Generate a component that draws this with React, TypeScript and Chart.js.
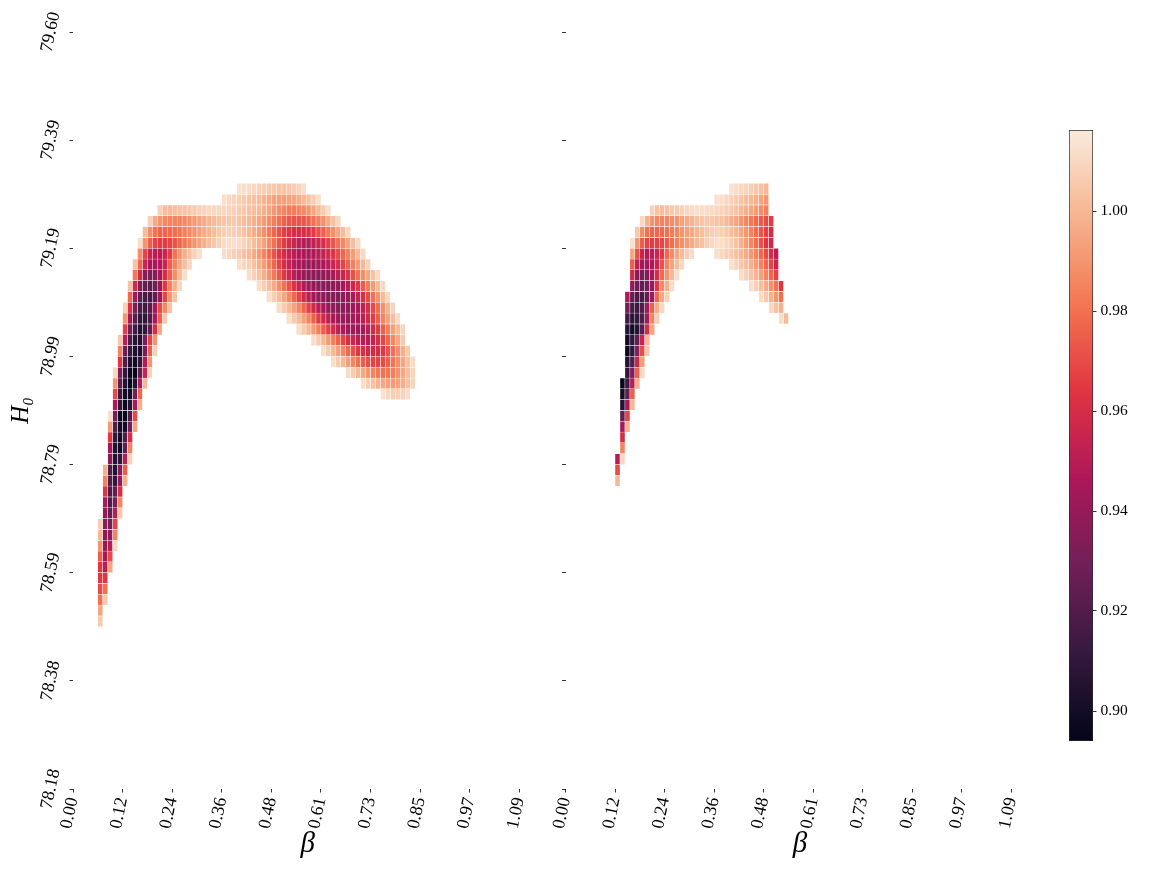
import React, { useEffect, useRef } from "react";
import { Chart, registerables } from "chart.js";

Chart.register(...registerables);

const xTickLabels = ["0.00", "0.12", "0.24", "0.36", "0.48", "0.61", "0.73", "0.85", "0.97", "1.09"];
const xTickCols = [0, 10, 20, 30, 40, 50, 60, 70, 80, 90];
const yTickLabels = ["78.18", "78.38", "78.59", "78.79", "78.99", "79.19", "79.39", "79.60"];
const yTickRows = [0, 10, 20, 30, 40, 50, 60, 70];
const colorbarTicks = [0.9, 0.92, 0.94, 0.96, 0.98, 1.0];
const colorMin = 0.894;
const colorMax = 1.0162;
const rocketStops = ["#03051a", "#35193e", "#701f57", "#ad1759", "#e13342", "#f37651", "#f6b48f", "#faebdd"];

type Run = [number, number, number[]];

// [row, first column, values]
const leftRuns: Run[] = [
  [55, 33, [1.013, 1.012, 1.011, 1.01, 1.008, 1.007, 1.006, 1.005, 1.004, 1.004, 1.005, 1.007, 1.009, 1.012]],
  [54, 30, [1.012, 1.01, 1.009, 1.007, 1.006, 1.004, 1.003, 1.001, 0.999, 0.996, 0.994, 0.993, 0.993, 0.994, 0.995, 0.997, 1.0, 1.003, 1.007, 1.012]],
  [53, 17, [1.008, 1.002, 1.001, 1.002, 1.003, 1.004, 1.005, 1.006, 1.008, 1.009, 1.01, 1.01, 1.01, 1.01, 1.009, 1.008, 1.006, 1.005, 1.003, 1.002, 1.0, 0.998, 0.995, 0.991, 0.988, 0.985, 0.983, 0.983, 0.985, 0.987, 0.99, 0.995, 1.0, 1.006, 1.012]],
  [52, 15, [1.008, 0.996, 0.99, 0.986, 0.985, 0.985, 0.985, 0.987, 0.989, 0.991, 0.994, 0.996, 0.999, 1.001, 1.003, 1.004, 1.005, 1.005, 1.004, 1.002, 1.0, 0.998, 0.995, 0.992, 0.988, 0.984, 0.98, 0.976, 0.973, 0.972, 0.972, 0.973, 0.976, 0.98, 0.984, 0.989, 0.996, 1.003, 1.01]],
  [51, 14, [1.002, 0.988, 0.98, 0.977, 0.977, 0.978, 0.979, 0.981, 0.984, 0.987, 0.99, 0.993, 0.996, 0.999, 1.002, 1.005, 1.007, 1.008, 1.007, 1.006, 1.003, 1.0, 0.997, 0.993, 0.988, 0.983, 0.977, 0.972, 0.967, 0.963, 0.96, 0.959, 0.96, 0.962, 0.966, 0.971, 0.976, 0.982, 0.988, 0.995, 1.002, 1.01]],
  [50, 13, [1.012, 0.99, 0.975, 0.968, 0.966, 0.966, 0.968, 0.972, 0.977, 0.981, 0.986, 0.99, 0.994, 0.998, 1.002, 1.005, 1.008, 1.011, 1.012, 1.012, 1.011, 1.009, 1.006, 1.002, 0.998, 0.993, 0.987, 0.98, 0.973, 0.966, 0.96, 0.955, 0.951, 0.949, 0.949, 0.952, 0.956, 0.961, 0.967, 0.973, 0.98, 0.987, 0.994, 1.002, 1.011]],
  [49, 13, [0.988, 0.968, 0.955, 0.95, 0.95, 0.955, 0.966, 0.98, 0.99, 0.997, 1.003, 1.008, 1.012]],
  [49, 30, [1.012, 1.01, 1.008, 1.006, 1.003, 1.0, 0.996, 0.991, 0.985, 0.979, 0.972, 0.965, 0.959, 0.954, 0.95, 0.947, 0.946, 0.946, 0.947, 0.95, 0.953, 0.958, 0.963, 0.97, 0.977, 0.984, 0.992, 1.0, 1.01]],
  [48, 12, [1.004, 0.977, 0.955, 0.945, 0.945, 0.948, 0.955, 0.975, 0.985, 0.995, 1.002, 1.01]],
  [48, 33, [1.012, 1.01, 1.007, 1.003, 0.998, 0.992, 0.985, 0.977, 0.968, 0.96, 0.954, 0.949, 0.945, 0.942, 0.94, 0.94, 0.942, 0.945, 0.949, 0.955, 0.961, 0.968, 0.976, 0.984, 0.992, 1.0, 1.009]],
  [47, 12, [0.982, 0.958, 0.935, 0.932, 0.935, 0.945, 0.96, 0.975, 0.988, 1.0, 1.012]],
  [47, 35, [1.012, 1.008, 1.003, 0.997, 0.99, 0.982, 0.974, 0.965, 0.957, 0.95, 0.945, 0.941, 0.938, 0.937, 0.937, 0.938, 0.941, 0.945, 0.95, 0.956, 0.963, 0.971, 0.98, 0.988, 0.995, 1.003, 1.011]],
  [46, 11, [1.003, 0.958, 0.935, 0.925, 0.923, 0.928, 0.94, 0.965, 0.985, 0.998, 1.01]],
  [46, 37, [1.012, 1.007, 1.002, 0.996, 0.988, 0.98, 0.972, 0.963, 0.955, 0.948, 0.943, 0.939, 0.937, 0.936, 0.936, 0.937, 0.94, 0.944, 0.95, 0.957, 0.965, 0.974, 0.983, 0.992, 1.0, 1.01]],
  [45, 11, [0.978, 0.945, 0.925, 0.918, 0.918, 0.925, 0.943, 0.968, 0.99, 1.003]],
  [45, 39, [1.012, 1.007, 1.001, 0.995, 0.986, 0.977, 0.968, 0.959, 0.951, 0.945, 0.94, 0.937, 0.935, 0.935, 0.936, 0.938, 0.941, 0.946, 0.953, 0.961, 0.97, 0.98, 0.99, 1.0, 1.01]],
  [44, 10, [1.008, 0.962, 0.932, 0.918, 0.915, 0.922, 0.945, 0.97, 0.986, 1.003]],
  [44, 41, [1.012, 1.006, 1.0, 0.994, 0.986, 0.977, 0.967, 0.958, 0.95, 0.945, 0.94, 0.937, 0.936, 0.936, 0.938, 0.941, 0.946, 0.952, 0.96, 0.969, 0.979, 0.989, 0.999, 1.009]],
  [43, 10, [0.99, 0.945, 0.922, 0.91, 0.91, 0.92, 0.945, 0.975, 1.005]],
  [43, 43, [1.012, 1.006, 1.0, 0.993, 0.985, 0.976, 0.966, 0.958, 0.952, 0.947, 0.943, 0.941, 0.941, 0.943, 0.946, 0.951, 0.958, 0.966, 0.975, 0.985, 0.994, 1.002, 1.011]],
  [42, 10, [0.967, 0.93, 0.915, 0.905, 0.91, 0.925, 0.96, 0.995]],
  [42, 45, [1.012, 1.006, 1.0, 0.992, 0.984, 0.975, 0.967, 0.959, 0.952, 0.947, 0.943, 0.942, 0.943, 0.946, 0.951, 0.958, 0.966, 0.975, 0.984, 0.993, 1.001, 1.009]],
  [41, 9, [1.005, 0.95, 0.92, 0.908, 0.905, 0.93, 0.968, 0.99]],
  [41, 48, [1.012, 1.006, 1.0, 0.992, 0.984, 0.976, 0.968, 0.961, 0.955, 0.951, 0.949, 0.95, 0.954, 0.96, 0.968, 0.977, 0.986, 0.995, 1.005]],
  [40, 9, [0.985, 0.928, 0.912, 0.904, 0.903, 0.93, 0.975, 1.008]],
  [40, 50, [1.012, 1.006, 1.0, 0.993, 0.986, 0.978, 0.971, 0.965, 0.961, 0.958, 0.958, 0.96, 0.965, 0.972, 0.98, 0.988, 0.997, 1.006]],
  [39, 9, [0.965, 0.92, 0.903, 0.9, 0.91, 0.948, 0.99]],
  [39, 52, [1.012, 1.006, 1.0, 0.993, 0.986, 0.98, 0.975, 0.971, 0.968, 0.968, 0.97, 0.975, 0.981, 0.988, 0.995, 1.003, 1.011]],
  [38, 8, [1.01, 0.935, 0.91, 0.896, 0.895, 0.925, 0.955, 1.008]],
  [38, 55, [1.011, 1.006, 1.0, 0.995, 0.99, 0.985, 0.982, 0.98, 0.981, 0.984, 0.989, 0.995, 1.002, 1.009]],
  [37, 8, [0.99, 0.925, 0.905, 0.896, 0.905, 0.95, 1.0]],
  [37, 58, [1.012, 1.007, 1.003, 0.999, 0.995, 0.993, 0.992, 0.994, 0.997, 1.003, 1.009]],
  [36, 8, [0.97, 0.915, 0.9, 0.9, 0.93, 0.977]],
  [36, 62, [1.013, 1.01, 1.007, 1.007, 1.009, 1.012]],
  [35, 8, [0.947, 0.91, 0.897, 0.906, 0.946, 0.998]],
  [34, 7, [1.012, 0.93, 0.897, 0.895, 0.92, 0.97]],
  [33, 7, [0.992, 0.92, 0.9, 0.9, 0.93, 0.995]],
  [32, 7, [0.965, 0.91, 0.9, 0.92, 0.96]],
  [31, 7, [0.945, 0.905, 0.9, 0.925, 0.985]],
  [30, 7, [0.935, 0.905, 0.91, 0.95, 1.008]],
  [29, 6, [0.998, 0.92, 0.905, 0.935, 0.975]],
  [28, 6, [0.985, 0.92, 0.91, 0.94, 0.998]],
  [27, 6, [0.965, 0.92, 0.925, 0.96]],
  [26, 6, [0.947, 0.92, 0.93, 0.985]],
  [25, 6, [0.94, 0.925, 0.95, 1.005]],
  [24, 5, [1.007, 0.937, 0.93, 0.968]],
  [23, 5, [1.0, 0.937, 0.94, 0.985]],
  [22, 5, [0.99, 0.94, 0.95, 1.01]],
  [21, 5, [0.975, 0.945, 0.97]],
  [20, 5, [0.965, 0.95, 0.995]],
  [19, 5, [0.965, 0.965]],
  [18, 5, [0.97, 0.98]],
  [17, 5, [0.98, 1.005]],
  [16, 5, [0.995]],
  [15, 5, [1.006]],
];

const rightRuns: Run[] = [
  [55, 33, [1.013, 1.011, 1.01, 1.009, 1.007, 1.005, 1.003, 1.0]],
  [54, 30, [1.013, 1.012, 1.01, 1.008, 1.006, 1.004, 1.002, 1.0, 0.998, 0.995, 0.991]],
  [53, 17, [1.008, 1.003, 1.002, 1.003, 1.005, 1.006, 1.008, 1.01, 1.011, 1.012, 1.012, 1.011, 1.011, 1.01, 1.009, 1.007, 1.005, 1.003, 1.0, 0.998, 0.995, 0.992, 0.988, 0.984]],
  [52, 15, [1.01, 0.998, 0.99, 0.986, 0.985, 0.986, 0.988, 0.99, 0.993, 0.996, 0.999, 1.002, 1.004, 1.005, 1.005, 1.004, 1.003, 1.0, 0.997, 0.994, 0.99, 0.986, 0.982, 0.978, 0.974, 0.97, 0.966]],
  [51, 14, [1.005, 0.988, 0.98, 0.977, 0.977, 0.978, 0.98, 0.983, 0.986, 0.99, 0.993, 0.996, 0.999, 1.002, 1.005, 1.007, 1.008, 1.007, 1.005, 1.002, 0.999, 0.995, 0.99, 0.985, 0.979, 0.973, 0.967, 0.96]],
  [50, 13, [1.013, 0.99, 0.975, 0.968, 0.966, 0.967, 0.969, 0.974, 0.979, 0.984, 0.988, 0.992, 0.996, 1.0, 1.003, 1.007, 1.01, 1.012, 1.012, 1.01, 1.007, 1.003, 0.998, 0.992, 0.986, 0.979, 0.972, 0.964, 0.957]],
  [49, 13, [0.995, 0.972, 0.955, 0.948, 0.95, 0.955, 0.965, 0.978, 0.987, 0.995, 1.001, 1.007, 1.011]],
  [49, 30, [1.012, 1.01, 1.008, 1.006, 1.003, 1.0, 0.996, 0.991, 0.985, 0.978, 0.97, 0.96, 0.95]],
  [48, 13, [0.975, 0.952, 0.943, 0.943, 0.947, 0.955, 0.972, 0.985, 0.994, 1.002, 1.01]],
  [48, 33, [1.012, 1.009, 1.005, 1.002, 0.998, 0.992, 0.985, 0.977, 0.968, 0.955]],
  [47, 13, [0.958, 0.935, 0.932, 0.935, 0.945, 0.96, 0.978, 0.99, 1.0, 1.012]],
  [47, 35, [1.012, 1.008, 1.004, 0.999, 0.993, 0.985, 0.977, 0.968]],
  [46, 13, [0.94, 0.928, 0.925, 0.928, 0.94, 0.965, 0.987, 0.998, 1.011]],
  [46, 37, [1.012, 1.007, 1.002, 0.996, 0.989, 0.98, 0.965]],
  [45, 12, [0.948, 0.925, 0.918, 0.918, 0.925, 0.943, 0.978, 0.995, 1.008]],
  [45, 39, [1.011, 1.005, 0.998, 0.99, 0.98]],
  [44, 12, [0.93, 0.917, 0.913, 0.92, 0.945, 0.975, 0.997, 1.01]],
  [44, 41, [1.01, 1.003, 0.998]],
  [43, 12, [0.915, 0.908, 0.91, 0.92, 0.945, 0.985, 1.007]],
  [43, 43, [1.012, 1.001]],
  [42, 12, [0.907, 0.9, 0.905, 0.922, 0.96, 0.995]],
  [41, 12, [0.9, 0.91, 0.925, 0.955, 1.0]],
  [40, 12, [0.897, 0.91, 0.935, 0.97, 1.005]],
  [39, 12, [0.905, 0.92, 0.955, 0.993]],
  [38, 12, [0.91, 0.935, 0.975, 1.01]],
  [37, 11, [0.894, 0.915, 0.95, 0.998]],
  [36, 11, [0.9, 0.925, 0.975]],
  [35, 11, [0.905, 0.945, 1.0]],
  [34, 11, [0.925, 0.968]],
  [33, 11, [0.945, 0.998]],
  [32, 11, [0.96]],
  [31, 11, [0.985]],
  [30, 10, [0.95, 1.01]],
  [29, 10, [0.97]],
  [28, 10, [1.0]],
];

const serif = "'Liberation Serif', 'Times New Roman', serif";

function hexToRgb(h: string) {
  return [1, 3, 5].map((i) => parseInt(h.slice(i, i + 2), 16));
}
function rocket(v: number) {
  const t = Math.max(0, Math.min(1, (v - colorMin) / (colorMax - colorMin))) * (rocketStops.length - 1);
  const i = Math.min(rocketStops.length - 2, Math.floor(t));
  const a = hexToRgb(rocketStops[i]);
  const b = hexToRgb(rocketStops[i + 1]);
  const f = t - i;
  const c = a.map((x, k) => Math.round(x + (b[k] - x) * f));
  return `rgb(${c[0]},${c[1]},${c[2]})`;
}

function cells(runs: Run[]) {
  const out: { x: number; y: [number, number]; v: number }[] = [];
  runs.forEach(([row, col, values]) =>
    values.forEach((v, i) => out.push({ x: col + i + 0.5, y: [row, row + 1], v }))
  );
  return out;
}

function heatConfig(runs: Run[], showY: boolean, yWidth: number, betaText: string): any {
  return {
    type: "bar",
    data: {
      datasets: [
        {
          data: cells(runs),
          backgroundColor: (c: any) => (c.raw ? rocket(c.raw.v) : "#fff"),
          borderColor: "#ffffff",
          borderWidth: 0.5,
          borderSkipped: false,
          barPercentage: 1,
          categoryPercentage: 1,
        },
      ],
    },
    options: {
      responsive: false,
      animation: false,
      events: [],
      layout: { padding: { top: 32, left: 0, right: 0, bottom: 0 } },
      plugins: { legend: { display: false }, tooltip: { enabled: false } },
      scales: {
        x: {
          type: "linear",
          offset: false,
          bounds: "data",
          min: 0,
          max: 99,
          afterBuildTicks: (s: any) => {
            s.ticks = xTickCols.map((value) => ({ value }));
          },
          afterFit: (s: any) => {
            s.height = 83;
          },
          border: { display: false },
          grid: { drawOnChartArea: false, drawTicks: true, tickLength: 3.5, tickColor: "#000", lineWidth: 0.8, offset: false },
          ticks: {
            autoSkip: false,
            includeBounds: false,
            minRotation: 78,
            maxRotation: 78,
            padding: 3,
            color: "#000",
            font: { family: serif, size: 18 },
            callback: (_: any, i: number) => xTickLabels[i],
          },
          title: {
            display: true,
            text: betaText,
            color: "#000",
            font: { family: serif, size: 29, style: "italic" },
            padding: { top: 0, bottom: 10 },
          },
        },
        y: {
          type: "linear",
          bounds: "data",
          min: 0,
          max: 70,
          afterBuildTicks: (s: any) => {
            s.ticks = yTickRows.map((value) => ({ value }));
          },
          afterFit: (s: any) => {
            s.width = yWidth;
          },
          border: { display: false },
          grid: { drawOnChartArea: false, drawTicks: true, tickLength: 3.5, tickColor: "#000", lineWidth: 0.8 },
          ticks: {
            autoSkip: false,
            includeBounds: false,
            minRotation: 78,
            maxRotation: 78,
            crossAlign: "center",
            padding: -1.5,
            color: "#000",
            font: { family: serif, size: 18 },
            callback: (_: any, i: number) => (showY ? yTickLabels[i] : ""),
          },
          title: {
            display: showY,
            text: "H₀",
            color: "#000",
            font: { family: serif, size: 25, style: "italic" },
            padding: { top: 6, bottom: 0 },
          },
        },
      },
    },
  };
}

function colorbarConfig(): any {
  return {
    type: "bar",
    data: {
      labels: ["scale"],
      datasets: [
        {
          data: [[colorMin, colorMax]],
          backgroundColor: (c: any) => {
            const { ctx, chartArea } = c.chart;
            if (!chartArea) return rocketStops[4];
            const g = ctx.createLinearGradient(0, chartArea.bottom, 0, chartArea.top);
            rocketStops.forEach((s, i) => g.addColorStop(i / (rocketStops.length - 1), s));
            return g;
          },
          borderColor: "#2a2a2a",
          borderWidth: 1,
          borderSkipped: false,
          barPercentage: 1,
          categoryPercentage: 1,
        },
      ],
    },
    options: {
      responsive: false,
      animation: false,
      events: [],
      layout: { padding: { top: 130, left: 19, right: 0, bottom: 131 } },
      plugins: { legend: { display: false }, tooltip: { enabled: false } },
      scales: {
        x: { display: false },
        y: {
          position: "right",
          bounds: "data",
          min: colorMin,
          max: colorMax,
          afterBuildTicks: (s: any) => {
            s.ticks = colorbarTicks.map((value) => ({ value }));
          },
          afterFit: (s: any) => {
            s.width = 70;
          },
          border: { display: false },
          grid: { drawOnChartArea: false, drawTicks: true, tickLength: 3.5, tickColor: "#000", lineWidth: 0.8 },
          ticks: {
            autoSkip: false,
            includeBounds: false,
            padding: 4,
            color: "#000",
            font: { family: serif, size: 15.5 },
            callback: (v: number) => v.toFixed(2),
          },
        },
      },
    },
  };
}

export default function App() {
  const a = useRef<HTMLCanvasElement>(null);
  const b = useRef<HTMLCanvasElement>(null);
  const c = useRef<HTMLCanvasElement>(null);
  useEffect(() => {
    const charts = [
      new Chart(a.current!, heatConfig(leftRuns, true, 73, "β   ")),
      new Chart(b.current!, heatConfig(rightRuns, false, 65.5, "β   ")),
      new Chart(c.current!, colorbarConfig()),
    ];
    return () => charts.forEach((ch) => ch.destroy());
  }, []);
  const pos = (left: number): React.CSSProperties => ({ position: "absolute", left, top: 0 });
  return (
    <div style={{ position: "absolute", left: 0, top: 0, width: 1163, height: 872, background: "#fff", overflow: "hidden" }}>
      <canvas ref={a} width={564} height={872} style={pos(0)} />
      <canvas ref={b} width={556} height={872} style={pos(500)} />
      <canvas ref={c} width={113} height={872} style={pos(1050)} />
    </div>
  );
}
